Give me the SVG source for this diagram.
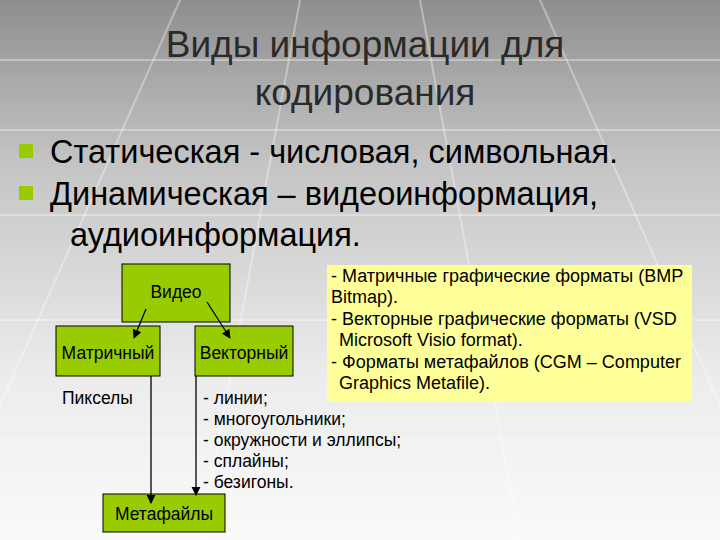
<svg xmlns="http://www.w3.org/2000/svg" width="720" height="540" viewBox="0 0 720 540">
<defs>
<linearGradient id="bg" x1="0" y1="0" x2="0" y2="1">
<stop offset="0" stop-color="#8e8e8e"/><stop offset="0.3" stop-color="#c4c4c4"/><stop offset="0.7" stop-color="#ececec"/><stop offset="1" stop-color="#fafafa"/>
</linearGradient>
<marker id="ah" viewBox="0 0 10 10" refX="9" refY="5" markerWidth="7" markerHeight="7" orient="auto"><path d="M0,0L10,5L0,10z" fill="#000"/></marker>
<style>
.t{font-family:"Liberation Sans",Arial,sans-serif;fill:#000}
.n{fill:#99cc00;stroke:#000;stroke-width:1}
.c{stroke:#000;stroke-width:1.3;fill:none;marker-end:url(#ah)}
</style>
</defs>
<rect width="720" height="540" fill="url(#bg)"/>
<g stroke="#ffffff" stroke-opacity="0.35" stroke-width="2">
<line x1="0" y1="60" x2="720" y2="60"/><line x1="0" y1="130" x2="720" y2="130"/><line x1="0" y1="215" x2="720" y2="215"/><line x1="0" y1="320" x2="720" y2="320"/><line x1="0" y1="440" x2="720" y2="440"/>
<line x1="300" y1="0" x2="200" y2="540"/><line x1="420" y1="0" x2="520" y2="540"/><line x1="180" y1="0" x2="-60" y2="540"/><line x1="540" y1="0" x2="780" y2="540"/>
</g>
<g id="title" font-size="37" text-anchor="middle">
<text x="365" y="57" class="t" style="fill:#2a2a2a">Виды информации для</text>
<text x="365" y="105" class="t" style="fill:#2a2a2a">кодирования</text>
</g>
<g id="bullets" font-size="32.5">
<rect x="19" y="144" width="14" height="14" fill="#99cc00"/>
<text x="50" y="163" class="t">Статическая - числовая, символьная.</text>
<rect x="19" y="186" width="14" height="14" fill="#99cc00"/>
<text x="50" y="205" class="t">Динамическая – видеоинформация,</text>
<text x="70" y="246" class="t">аудиоинформация.</text>
</g>
<g id="video"><rect class="n" x="122" y="264" width="108" height="58"/><text class="t" x="176" y="298" font-size="17.5" text-anchor="middle">Видео</text></g>
<g id="matrix"><rect class="n" x="56" y="326" width="104" height="50"/><text class="t" x="108" y="359" font-size="17.5" text-anchor="middle">Матричный</text></g>
<g id="vector"><rect class="n" x="195" y="326" width="98" height="50"/><text class="t" x="244" y="359" font-size="17.5" text-anchor="middle">Векторный</text></g>
<g id="meta"><rect class="n" x="103" y="494" width="122" height="38"/><text class="t" x="164" y="520" font-size="17.5" text-anchor="middle">Метафайлы</text></g>
<g id="connectors">
<line class="c" x1="146" y1="309" x2="134" y2="338"/>
<line class="c" x1="207" y1="302" x2="230" y2="338"/>
<line class="c" x1="151" y1="376" x2="151" y2="503"/>
<line class="c" x1="196" y1="376" x2="196" y2="495"/>
</g>
<g id="pixels"><text class="t" x="62" y="404" font-size="17.5">Пикселы</text></g>
<g id="vlist" font-size="17.5">
<text class="t" x="203" y="404">- линии;</text>
<text class="t" x="203" y="425">- многоугольники;</text>
<text class="t" x="203" y="446">- окружности и эллипсы;</text>
<text class="t" x="203" y="467">- сплайны;</text>
<text class="t" x="203" y="488">- безигоны.</text>
</g>
<g id="formats">
<rect x="327" y="265" width="365" height="137" fill="#ffff99"/>
<g font-size="18">
<text class="t" x="331" y="282">- Матричные графические форматы (BMP</text>
<text class="t" x="331" y="303">Bitmap).</text>
<text class="t" x="331" y="325">- Векторные графические форматы (VSD</text>
<text class="t" x="339" y="346">Microsoft Visio format).</text>
<text class="t" x="331" y="368">- Форматы метафайлов (CGM – Computer</text>
<text class="t" x="339" y="389">Graphics Metafile).</text>
</g>
</g>
</svg>
